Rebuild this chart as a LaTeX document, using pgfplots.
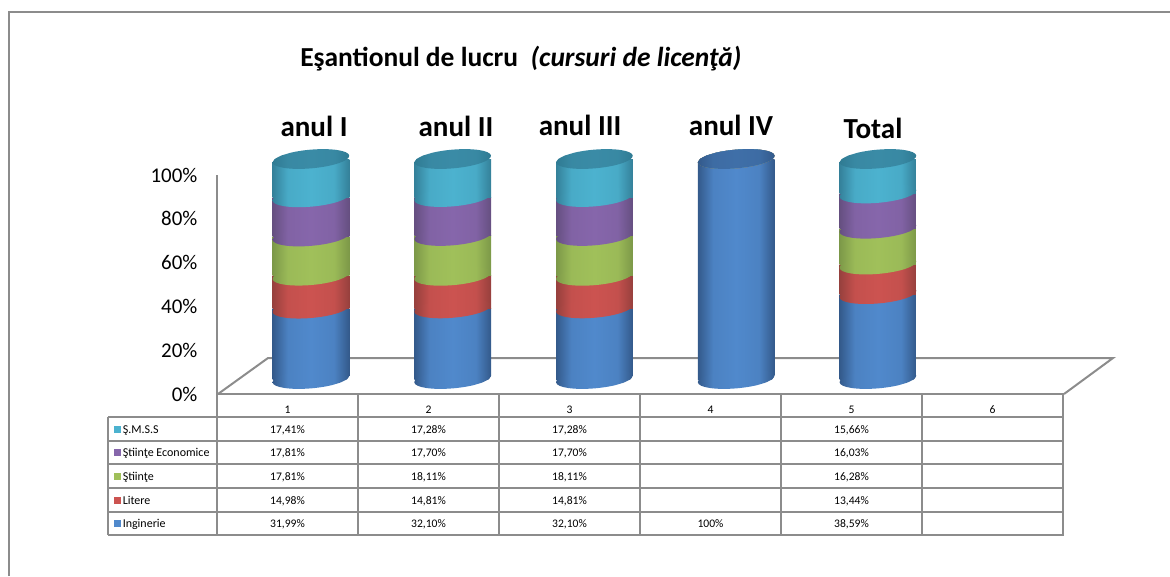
\documentclass[border=0pt]{standalone}
\usepackage{fontspec}
\setmainfont{Carlito}
\usepackage{pgfplots}
\usepackage{pgfplotstable}
\usetikzlibrary{shapes.geometric}
\pgfplotsset{compat=1.18}

\definecolor{linegray}{HTML}{8C8C8C}
\definecolor{blueM}{HTML}{5089CC}\definecolor{blueE}{HTML}{33598A}
\definecolor{redM}{HTML}{CC5350}\definecolor{redE}{HTML}{96403D}
\definecolor{greenM}{HTML}{A0C05A}\definecolor{greenE}{HTML}{7C9848}
\definecolor{purpleM}{HTML}{8666AB}\definecolor{purpleE}{HTML}{654F80}
\definecolor{cyanM}{HTML}{4CB2CF}\definecolor{cyanE}{HTML}{348099}
\definecolor{capcyanE}{HTML}{2F7A92}\definecolor{capcyanM}{HTML}{3A8BA6}
\definecolor{capblueE}{HTML}{33598A}\definecolor{capblueM}{HTML}{3F6FA8}

% darker only near the edges of the cylinder
\newcommand{\cylshade}[3]{\pgfdeclarehorizontalshading{#1}{100bp}{color(0bp)=(#2); color(25bp)=(#2);
  color(35bp)=(#3!85!#2); color(50bp)=(#3); color(65bp)=(#3!85!#2); color(75bp)=(#2); color(100bp)=(#2)}}
\cylshade{shblue}{blueE}{blueM}
\cylshade{shred}{redE}{redM}
\cylshade{shgreen}{greenE}{greenM}
\cylshade{shpurple}{purpleE}{purpleM}
\cylshade{shcyan}{cyanE}{cyanM}
\cylshade{shcapcyan}{capcyanE}{capcyanM}
\cylshade{shcapblue}{capblueE}{capblueM}

\pgfplotstableread{
x base ing lit sti eco sms
1 0 31.99 14.98 17.81 17.81 17.41
2 0 32.10 14.81 18.11 17.70 17.28
3 0 32.10 14.81 18.11 17.70 17.28
4 0 100 0 0 0 0
5 0 38.59 13.44 16.28 16.03 15.66
}\sample

% a band of the cylinder, and the tilted ellipse sitting on top of it (1px = 0.75pt)
\tikzset{
  band/.style={draw=none,shade,shading=#1},
  cylend/.style={ellipse,inner sep=0pt,minimum width=57.75pt,minimum height=14pt,
    rotate=5,anchor=center,draw=none,shade,shading=#1},
}

\begin{document}
\begin{tikzpicture}[x=0.75pt,y=-0.75pt]
\useasboundingbox (0,0) rectangle (1170,576);
\coordinate (valueorigin) at (217,394);
\coordinate (cylorigin) at (240,379);
% outer frame, only top and left are in the crop
\draw[linegray,line width=1.5pt] (9,576) -- (9,12) -- (1170,12);

% title and column captions
\node[anchor=base west,inner sep=0,font=\fontsize{20.6pt}{22pt}\selectfont\bfseries] at (300,66)
  {Eşantionul de lucru\ \ \textit{(cursuri de licenţă)}};
\foreach \cx/\cy/\lab in {314/136/anul I,456/136/anul II,580/135/anul III,731/135/anul IV,873/138/Total}
  \node[anchor=base,inner sep=0,font=\fontsize{21.8pt}{24pt}\selectfont\bfseries] at (\cx,\cy) {\lab};

% floor of the 3D box
\draw[linegray,line width=1.5pt,line join=miter] (218,394) -- (268,358) -- (1113,358) -- (1064,394);

% value axis
\begin{axis}[
  at={(valueorigin)},anchor=south west,
  scale only axis,width=635.25pt,height=164.25pt,
  xmin=0.5,xmax=6.5,ymin=0,ymax=100,
  axis y line*=left,axis x line=none,
  axis line style={-,draw=linegray,line width=1.5pt},
  ytick={0,20,40,60,80,100},
  yticklabels={0\%,20\%,40\%,60\%,80\%,100\%},
  major tick length=0pt,
  yticklabel style={inner sep=0pt,xshift=-14.5pt,font=\fontsize{15.7pt}{17pt}\selectfont},
]
\end{axis}

% table under the chart
\draw[linegray,line width=1.4pt] (217,394) -- (217,535) (108,417) -- (108,535);
\foreach \cx in {358,499,640,781,922,1063} \draw[linegray,line width=1.4pt] (\cx,394) -- (\cx,535);
\draw[linegray,line width=1.5pt] (217,394) -- (1064,394);
\foreach \cy in {417,441,464,488,512,535} \draw[linegray,line width=1.4pt] (108,\cy) -- (1064,\cy);

\tikzset{tcell/.style={inner sep=0,anchor=base,font=\fontsize{8.7pt}{10pt}\selectfont}}
\foreach \n [count=\i from 0] in {1,...,6} \node[tcell] at (287.5+141*\i,413) {\n};
\foreach \cy/\va/\vb/\vc/\vd/\ve in {
  433/{17,41\%}/{17,28\%}/{17,28\%}/{}/{15,66\%},
  456/{17,81\%}/{17,70\%}/{17,70\%}/{}/{16,03\%},
  480/{17,81\%}/{18,11\%}/{18,11\%}/{}/{16,28\%},
  504/{14,98\%}/{14,81\%}/{14,81\%}/{}/{13,44\%},
  527/{31,99\%}/{32,10\%}/{32,10\%}/{100\%}/{38,59\%}}{
  \node[tcell] at (287.5,\cy) {\va};
  \node[tcell] at (428.5,\cy) {\vb};
  \node[tcell] at (569.5,\cy) {\vc};
  \node[tcell] at (710.5,\cy) {\vd};
  \node[tcell] at (851.5,\cy) {\ve};
}
\foreach \cy/\col/\lab in {433/cyanM/Ş.M.S.S,456/purpleM/Ştiinţe Economice,480/greenM/Ştiinţe,504/redM/Litere,527/blueM/Inginerie}{
  \fill[\col] (114,\cy-7.5) rectangle (121,\cy-0.5);
  \node[tcell,anchor=base west,font=\fontsize{9pt}{10pt}\selectfont] at (122.5,\cy) {\lab};
}

% the cylinders, one axis per column so that each bar gets its own shading
\foreach \c/\capS in {1/shcapcyan,2/shcapcyan,3/shcapcyan,4/shcapblue,5/shcapcyan}{
\pgfmathsetmacro{\X}{311+141.75*(\c-1)}
\begin{scope}
% cut the bar corners that the tilted ends leave sticking out
\clip ({\X-38.5},162.4) -- ({\X-36},158.8) -- ({\X-30},155.6) -- ({\X-20},152.6) -- ({\X-5},140)
  -- ({\X+38.5},140) -- ({\X+38.5},375.6) -- ({\X+36},379.2) -- ({\X+30},382.4) -- ({\X+20},385.4)
  -- ({\X+5},400) -- ({\X-38.5},400) -- cycle;
\begin{axis}[
  at={(cylorigin)},anchor=south west,
  scale only axis,width=637.9pt,height=165pt,
  xmin=0.5,xmax=6.5,ymin=0,ymax=100,
  hide axis,clip=false,
  ybar,stack plots=y,bar shift=0pt,reverse stacked plots=false,
  bar width=57.75pt,
  restrict x to domain=\c:\c,
  nodes near coords={},
]
\addplot[draw=none,fill=none,every node near coord/.append style={cylend=shblue}] table[x=x,y=base] {\sample};
\addplot[band=shblue,every node near coord/.append style={cylend=shred}] table[x=x,y=ing] {\sample};
\addplot[band=shred,every node near coord/.append style={cylend=shgreen}] table[x=x,y=lit] {\sample};
\addplot[band=shgreen,every node near coord/.append style={cylend=shpurple}] table[x=x,y=sti] {\sample};
\addplot[band=shpurple,every node near coord/.append style={cylend=shcyan}] table[x=x,y=eco] {\sample};
\addplot[band=shcyan,every node near coord/.append style={cylend=\capS}] table[x=x,y=sms] {\sample};
\end{axis}
\end{scope}
}
\end{tikzpicture}
\end{document}
